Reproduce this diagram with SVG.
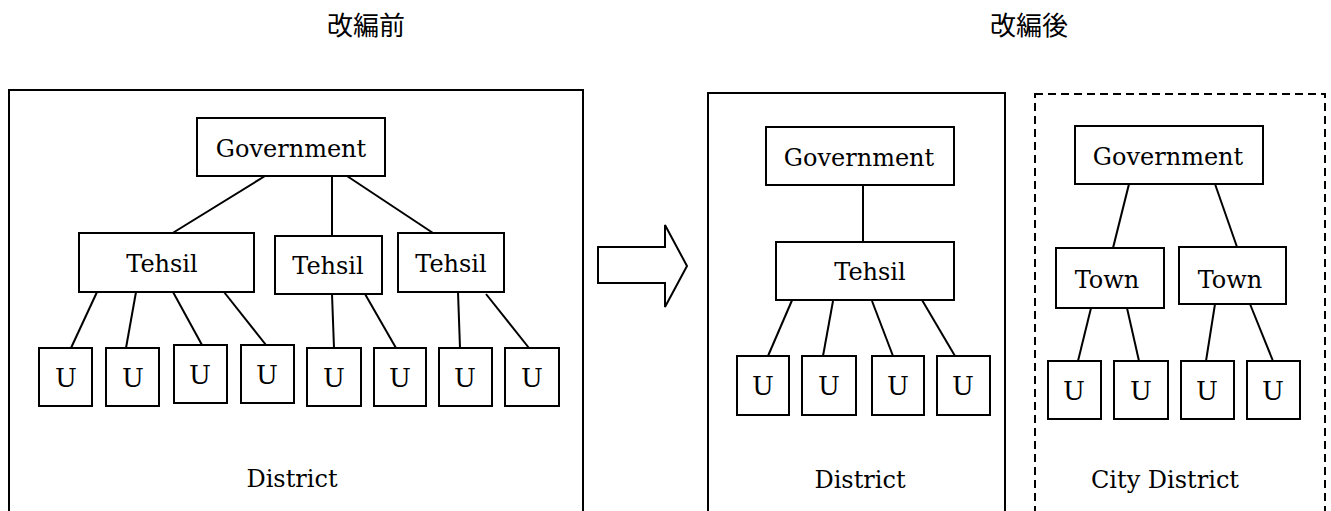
<svg xmlns="http://www.w3.org/2000/svg" width="1331" height="511" viewBox="0 0 1331 511">
<style>
.box{fill:#fff;stroke:#000;stroke-width:2}
.frame{fill:none;stroke:#000;stroke-width:2}
.dash{fill:none;stroke:#000;stroke-width:2;stroke-dasharray:8 5}
.ln{stroke:#000;stroke-width:2;fill:none}
.t{font-family:"DejaVu Serif","Liberation Serif",serif;font-size:24px;fill:#000;text-anchor:middle}
.u{font-family:"DejaVu Serif","Liberation Serif",serif;font-size:26px;fill:#000;text-anchor:middle}
.h{font-family:"Noto Sans CJK JP","Noto Sans CJK SC",sans-serif;font-size:26px;fill:#000;text-anchor:middle}
</style>
<rect width="1331" height="511" fill="#fff"/>
<g id="titles">
<text class="h" x="366" y="35">改編前</text>
<text class="h" x="1029" y="35">改編後</text>
</g>
<g id="frames">
<rect class="frame" x="9" y="90" width="574" height="440"/>
<rect class="frame" x="708" y="93" width="297" height="440"/>
<rect class="dash" x="1035" y="94" width="290" height="440"/>
<text class="t" x="292" y="487">District</text>
<text class="t" x="860" y="488">District</text>
<text class="t" x="1165" y="488">City District</text>
</g>
<g id="arrow">
<path class="frame" d="M598,247 L665,247 L665,225 L687,266 L665,307 L665,283 L598,283 Z"/>
</g>
<g id="connectors">
<line class="ln" x1="265" y1="176" x2="171" y2="234"/>
<line class="ln" x1="332" y1="176" x2="332" y2="236"/>
<line class="ln" x1="347" y1="176" x2="433" y2="233"/>
<line class="ln" x1="97" y1="292" x2="71" y2="348"/>
<line class="ln" x1="136" y1="292" x2="126" y2="348"/>
<line class="ln" x1="173" y1="292" x2="202" y2="345"/>
<line class="ln" x1="224" y1="292" x2="266" y2="345"/>
<line class="ln" x1="332" y1="294" x2="334" y2="348"/>
<line class="ln" x1="365" y1="294" x2="396" y2="348"/>
<line class="ln" x1="458" y1="292" x2="460" y2="348"/>
<line class="ln" x1="486" y1="294" x2="529" y2="348"/>
<line class="ln" x1="863" y1="185" x2="863" y2="242"/>
<line class="ln" x1="793" y1="298" x2="768" y2="356"/>
<line class="ln" x1="833" y1="301" x2="823" y2="356"/>
<line class="ln" x1="872" y1="301" x2="893" y2="356"/>
<line class="ln" x1="922" y1="300" x2="955" y2="356"/>
<line class="ln" x1="1129" y1="184" x2="1113" y2="248"/>
<line class="ln" x1="1215" y1="184" x2="1237" y2="247"/>
<line class="ln" x1="1091" y1="308" x2="1078" y2="361"/>
<line class="ln" x1="1127" y1="308" x2="1139" y2="361"/>
<line class="ln" x1="1215" y1="304" x2="1206" y2="361"/>
<line class="ln" x1="1250" y1="304" x2="1273" y2="361"/>
</g>
<g id="gov-before"><rect class="box" x="197" y="118" width="188" height="58"/><text class="t" x="291" y="157">Government</text></g>
<g id="tehsil-b1"><rect class="box" x="79" y="233" width="175" height="59"/><text class="t" x="162" y="272">Tehsil</text></g>
<g id="tehsil-b2"><rect class="box" x="275" y="236" width="107" height="58"/><text class="t" x="328" y="274">Tehsil</text></g>
<g id="tehsil-b3"><rect class="box" x="398" y="233" width="106" height="59"/><text class="t" x="451" y="272">Tehsil</text></g>
<g id="u-b1"><rect class="box" x="39" y="348" width="53" height="58"/><text class="u" x="66" y="387">U</text></g>
<g id="u-b2"><rect class="box" x="106" y="348" width="53" height="58"/><text class="u" x="133" y="387">U</text></g>
<g id="u-b3"><rect class="box" x="174" y="345" width="53" height="58"/><text class="u" x="200" y="384">U</text></g>
<g id="u-b4"><rect class="box" x="241" y="345" width="53" height="58"/><text class="u" x="267" y="384">U</text></g>
<g id="u-b5"><rect class="box" x="307" y="348" width="54" height="58"/><text class="u" x="334" y="387">U</text></g>
<g id="u-b6"><rect class="box" x="374" y="348" width="52" height="58"/><text class="u" x="400" y="387">U</text></g>
<g id="u-b7"><rect class="box" x="439" y="348" width="53" height="58"/><text class="u" x="465" y="387">U</text></g>
<g id="u-b8"><rect class="box" x="505" y="348" width="54" height="58"/><text class="u" x="532" y="387">U</text></g>
<g id="gov-after"><rect class="box" x="766" y="127" width="188" height="58"/><text class="t" x="859" y="166">Government</text></g>
<g id="tehsil-after"><rect class="box" x="776" y="242" width="178" height="58"/><text class="t" x="870" y="280">Tehsil</text></g>
<g id="u-a1"><rect class="box" x="737" y="356" width="52" height="59"/><text class="u" x="763" y="395">U</text></g>
<g id="u-a2"><rect class="box" x="802" y="356" width="54" height="59"/><text class="u" x="829" y="395">U</text></g>
<g id="u-a3"><rect class="box" x="872" y="356" width="52" height="59"/><text class="u" x="898" y="395">U</text></g>
<g id="u-a4"><rect class="box" x="937" y="356" width="53" height="59"/><text class="u" x="963" y="395">U</text></g>
<g id="gov-city"><rect class="box" x="1075" y="126" width="188" height="58"/><text class="t" x="1168" y="165">Government</text></g>
<g id="town1"><rect class="box" x="1056" y="248" width="108" height="60"/><text class="t" x="1107" y="288">Town</text></g>
<g id="town2"><rect class="box" x="1179" y="247" width="107" height="57"/><text class="t" x="1230" y="288">Town</text></g>
<g id="u-c1"><rect class="box" x="1048" y="361" width="53" height="58"/><text class="u" x="1074" y="400">U</text></g>
<g id="u-c2"><rect class="box" x="1114" y="361" width="54" height="58"/><text class="u" x="1141" y="400">U</text></g>
<g id="u-c3"><rect class="box" x="1181" y="361" width="53" height="58"/><text class="u" x="1207" y="400">U</text></g>
<g id="u-c4"><rect class="box" x="1247" y="361" width="53" height="58"/><text class="u" x="1273" y="400">U</text></g>
</svg>
